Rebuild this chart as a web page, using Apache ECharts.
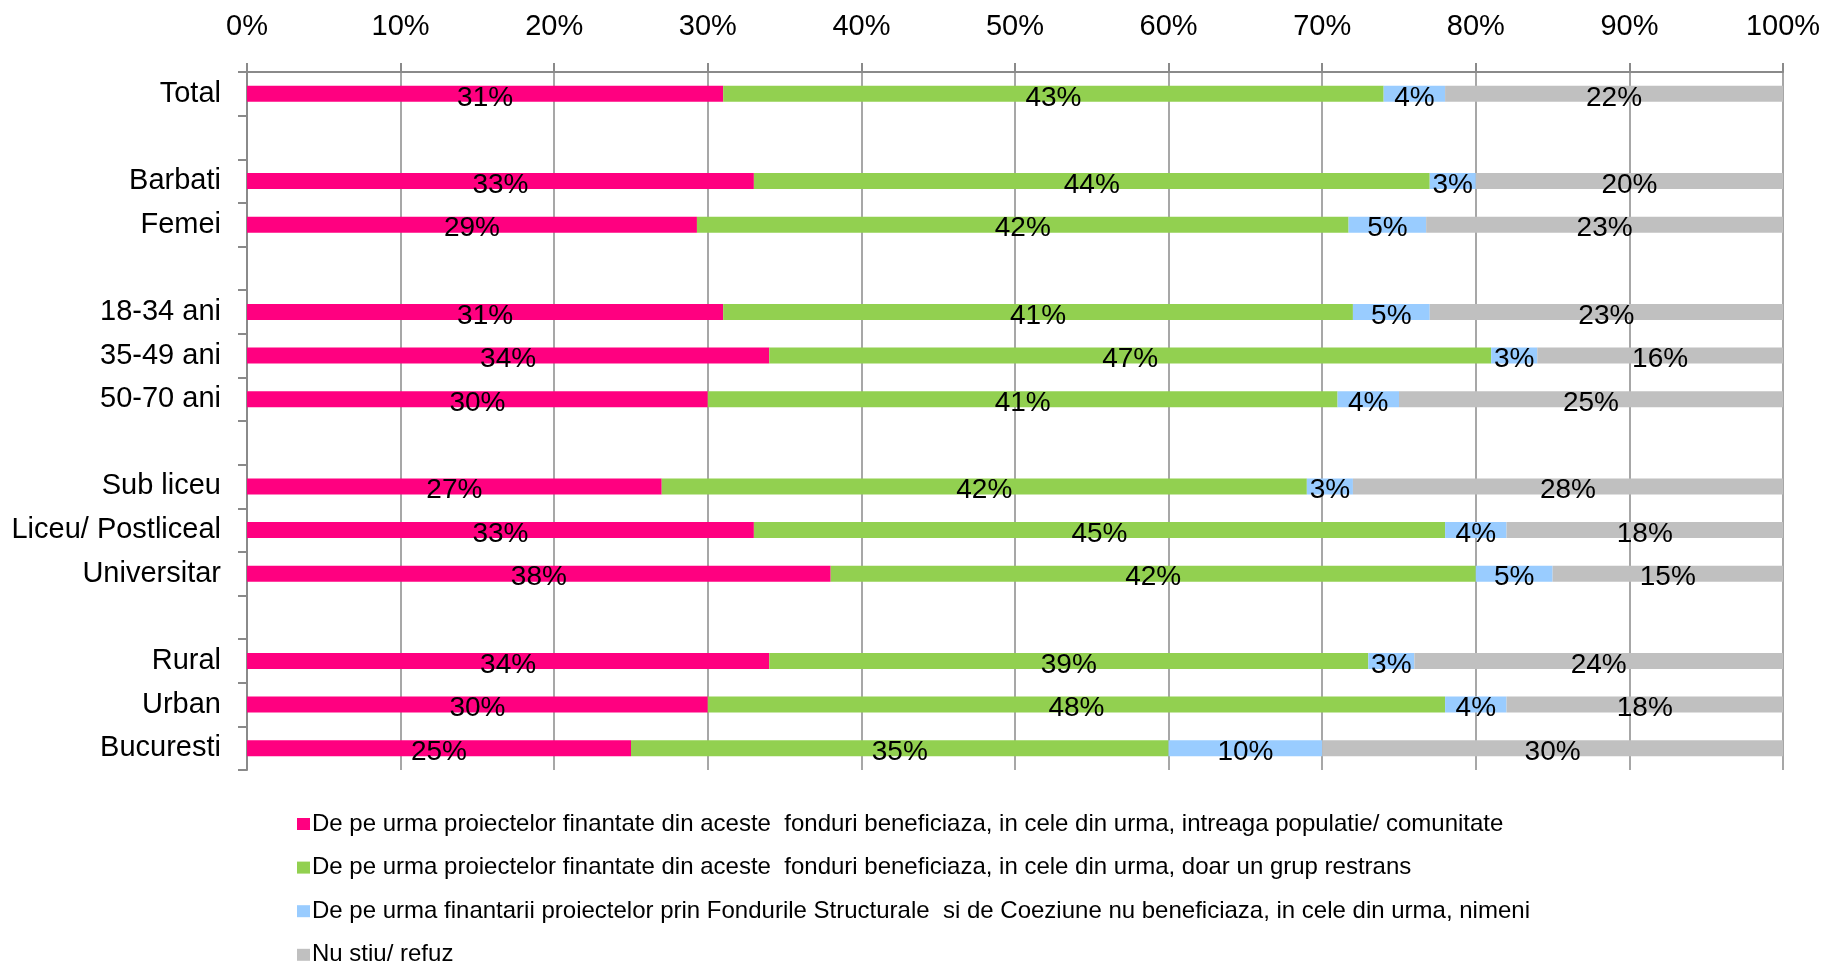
<!DOCTYPE html>
<html>
<head>
<meta charset="utf-8">
<script src="https://cdn.jsdelivr.net/npm/echarts@6/dist/echarts.min.js"></script>
<style>
  html, body { margin: 0; padding: 0; background: #ffffff; }
  #chart { width: 1825px; height: 963px; }
</style>
</head>
<body>
<div id="chart"></div>
<script>
// Row labels (empty strings are spacer rows between groups)
const categories = ['Total', '', 'Barbati', 'Femei', '', '18-34 ani', '35-49 ani', '50-70 ani', '',
  'Sub liceu', 'Liceu/ Postliceal', 'Universitar', '', 'Rural', 'Urban', 'Bucuresti'];

// Answer shares per row, in percent
const intreagaPopulatie = [31, null, 33, 29, null, 31, 34, 30, null, 27, 33, 38, null, 34, 30, 25];
const grupRestrans      = [43, null, 44, 42, null, 41, 47, 41, null, 42, 45, 42, null, 39, 48, 35];
const nimeni            = [4,  null, 3,  5,  null, 5,  3,  4,  null, 3,  4,  5,  null, 3,  4,  10];
const nuStiu            = [22, null, 20, 23, null, 23, 16, 25, null, 28, 18, 15, null, 24, 18, 30];

const seriesNames = [
  'De pe urma proiectelor finantate din aceste  fonduri beneficiaza, in cele din urma, intreaga populatie/ comunitate',
  'De pe urma proiectelor finantate din aceste  fonduri beneficiaza, in cele din urma, doar un grup restrans',
  'De pe urma finantarii proiectelor prin Fondurile Structurale  si de Coeziune nu beneficiaza, in cele din urma, nimeni',
  'Nu stiu/ refuz'
];
const seriesColors = ['#FF0080', '#92D050', '#99CCFF', '#C0C0C0'];
const xTicks = [0, 10, 20, 30, 40, 50, 60, 70, 80, 90, 100];

const allSeries = [intreagaPopulatie, grupRestrans, nimeni, nuStiu];

// 100% stacked: each row is scaled by its own total, labels keep the stated value
const rowTotals = categories.map((_, i) =>
  allSeries.reduce((s, arr) => s + (arr[i] == null ? 0 : arr[i]), 0));

const FONT = '"Liberation Sans", Arial, sans-serif';
const GRID_COLOR = '#8a8a8a';

// One legend block per entry so the four rows stack evenly under the plot
const legends = seriesNames.map((name, i) => ({
  orient: 'vertical',
  left: 292,
  top: 805 + i * 43.6,
  itemWidth: 13,
  itemHeight: 12,
  icon: 'rect',
  selectedMode: false,
  textStyle: { color: '#000', fontFamily: FONT, fontSize: 24, lineHeight: 28, padding: [0, 0, 0, -3] },
  data: [name]
}));

const chart = echarts.init(document.getElementById('chart'), null, { renderer: 'canvas' });

chart.setOption({
  animation: false,
  backgroundColor: '#ffffff',
  grid: { left: 247, right: 42, top: 72, height: 698, containLabel: false },
  xAxis: {
    type: 'value',
    position: 'top',
    min: xTicks[0],
    max: xTicks[xTicks.length - 1],
    interval: 10,
    axisLine: { show: true, lineStyle: { color: GRID_COLOR, width: 2 } },
    axisTick: { show: true, length: 9, lineStyle: { color: GRID_COLOR, width: 2 } },
    splitLine: { show: true, lineStyle: { color: GRID_COLOR, width: 1.5 } },
    axisLabel: {
      formatter: '{value}%', color: '#000', fontFamily: FONT, fontSize: 29, margin: 31
    }
  },
  yAxis: {
    type: 'category',
    data: categories,
    inverse: true,
    axisLine: { show: true, lineStyle: { color: GRID_COLOR, width: 2 } },
    axisTick: { show: true, length: 9, interval: 0, lineStyle: { color: GRID_COLOR, width: 2 } },
    axisLabel: { color: '#000', fontFamily: FONT, fontSize: 29, margin: 26, interval: 0 },
    splitLine: { show: false }
  },
  legend: legends,
  series: allSeries.map((arr, k) => ({
    name: seriesNames[k],
    type: 'bar',
    stack: 'total',
    barWidth: 16,
    itemStyle: { color: seriesColors[k] },
    label: {
      show: true,
      position: 'inside',
      offset: [0, 4],
      color: '#000',
      fontFamily: FONT,
      fontSize: 28,
      formatter: p => (p.data && p.data.raw != null) ? p.data.raw + '%' : ''
    },
    data: arr.map((v, i) => v == null ? '-' : { value: v / rowTotals[i] * 100, raw: v })
  }))
});
</script>
</body>
</html>
